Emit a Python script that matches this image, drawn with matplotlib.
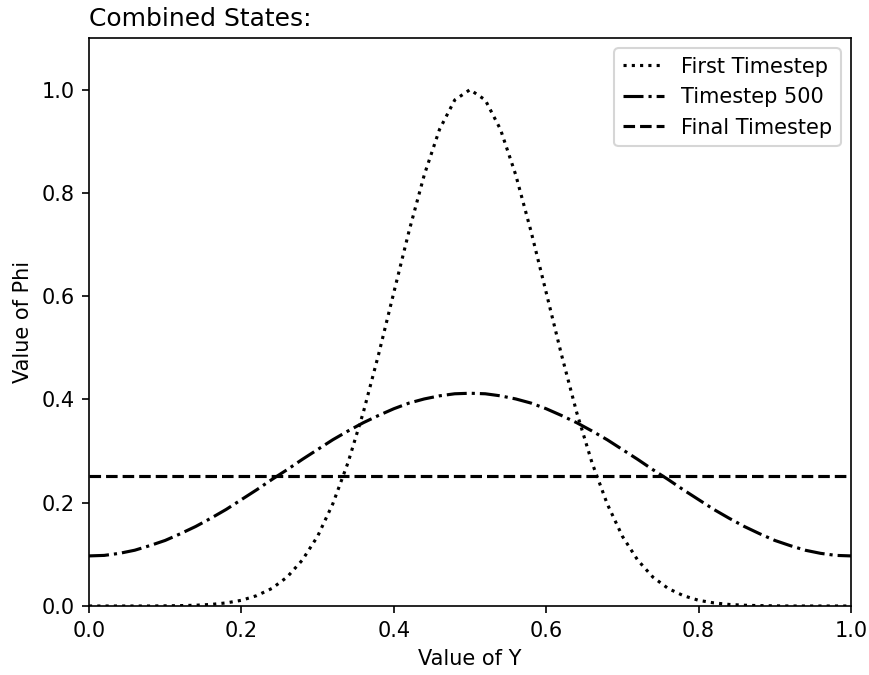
import matplotlib
matplotlib.use("Agg")
import matplotlib.pyplot as plt

# sample positions along Y
y_pos = [0.00, 0.02, 0.04, 0.06, 0.08, 0.10, 0.12, 0.14, 0.16, 0.18,
         0.20, 0.22, 0.24, 0.26, 0.28, 0.30, 0.32, 0.34, 0.36, 0.38,
         0.40, 0.42, 0.44, 0.46, 0.48, 0.50, 0.52, 0.54, 0.56, 0.58,
         0.60, 0.62, 0.64, 0.66, 0.68, 0.70, 0.72, 0.74, 0.76, 0.78,
         0.80, 0.82, 0.84, 0.86, 0.88, 0.90, 0.92, 0.94, 0.96, 0.98, 1.00]

# phi values
phi_first = [0.000, 0.000, 0.000, 0.000, 0.000, 0.0003, 0.0007, 0.0015, 0.003, 0.006,
             0.011, 0.020, 0.034, 0.056, 0.089, 0.135, 0.198, 0.278, 0.375, 0.487,
             0.607, 0.726, 0.835, 0.923, 0.980, 1.000, 0.980, 0.923, 0.835, 0.726,
             0.607, 0.487, 0.375, 0.278, 0.198, 0.135, 0.089, 0.056, 0.034, 0.020,
             0.011, 0.006, 0.003, 0.0015, 0.0007, 0.0003, 0.000, 0.000, 0.000, 0.000, 0.000]
phi_500 = [0.097, 0.098, 0.102, 0.108, 0.117, 0.127, 0.140, 0.154, 0.170, 0.187,
           0.206, 0.225, 0.245, 0.264, 0.284, 0.303, 0.322, 0.339, 0.355, 0.369,
           0.382, 0.393, 0.401, 0.407, 0.411, 0.412, 0.411, 0.407, 0.401, 0.393,
           0.382, 0.369, 0.355, 0.339, 0.322, 0.303, 0.284, 0.264, 0.245, 0.225,
           0.206, 0.187, 0.170, 0.154, 0.140, 0.127, 0.117, 0.108, 0.102, 0.098, 0.097]
phi_final = [0.251] * len(y_pos)

fig = plt.figure(figsize=(869/150, 675/150), dpi=150)
ax = fig.add_axes([89/869, 69/675, 762/869, 568/675])

ax.plot(y_pos, phi_first, color='black', linestyle=':', label='First Timestep')
ax.plot(y_pos, phi_500, color='black', linestyle='-.', label='Timestep 500')
ax.plot(y_pos, phi_final, color='black', linestyle='--', label='Final Timestep')

ax.set_xlim(0, 1)
ax.set_ylim(0, 1.1)
ax.set_xlabel('Value of Y')
ax.set_ylabel('Value of Phi')
ax.set_title('Combined States:', loc='left')
ax.legend(loc='upper right')

plt.savefig('out.png', dpi=150)
